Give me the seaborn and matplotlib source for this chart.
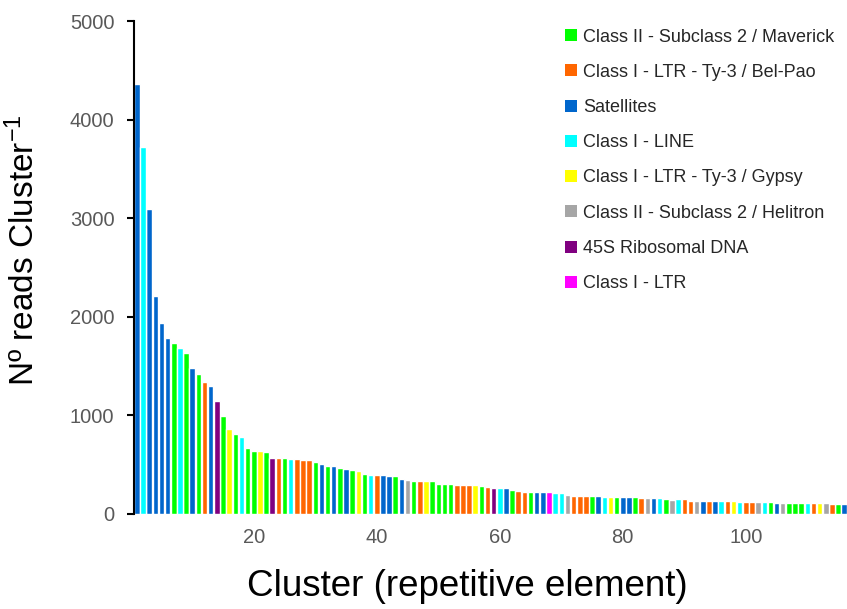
import pandas as pd
import seaborn as sns
import matplotlib.pyplot as plt
from matplotlib.patches import Patch

# Reads per cluster (clusters 1..116 in order)
reads = [4365, 3726, 3096, 2213, 1939, 1787, 1736, 1685, 1635, 1482,
         1421, 1340, 1300, 1147, 995, 863, 812, 782, 670, 640,
         640, 629, 569, 569, 569, 558, 558, 548, 548, 528,
         508, 487, 487, 467, 457, 447, 437, 406, 396, 396,
         396, 386, 386, 355, 345, 335, 335, 335, 335, 305,
         305, 305, 294, 294, 294, 294, 284, 274, 264, 264,
         264, 244, 234, 223, 223, 223, 223, 223, 213, 213,
         193, 183, 183, 183, 183, 183, 173, 173, 173, 173,
         173, 173, 162, 162, 162, 162, 152, 142, 152, 152,
         132, 132, 132, 132, 132, 132, 132, 132, 122, 122,
         122, 122, 122, 122, 112, 112, 112, 112, 112, 112,
         112, 112, 112, 102, 102, 102]

# Class code of each cluster
codes = ["sat", "line", "sat", "sat", "sat", "sat", "mav", "line", "mav", "sat",
         "mav", "bel", "sat", "rdna", "mav", "gyp", "mav", "line", "mav", "mav",
         "gyp", "mav", "rdna", "bel", "mav", "line", "bel", "bel", "bel", "mav",
         "sat", "mav", "sat", "mav", "sat", "mav", "gyp", "mav", "line", "bel",
         "sat", "sat", "mav", "sat", "hel", "mav", "bel", "gyp", "mav", "mav",
         "mav", "mav", "bel", "bel", "bel", "gyp", "mav", "bel", "rdna", "line",
         "sat", "mav", "bel", "bel", "mav", "sat", "sat", "ltr", "line", "line",
         "hel", "bel", "bel", "bel", "mav", "sat", "line", "gyp", "mav", "sat",
         "sat", "mav", "bel", "hel", "sat", "line", "mav", "hel", "line", "bel",
         "bel", "hel", "sat", "bel", "sat", "line", "bel", "gyp", "line", "bel",
         "bel", "hel", "line", "mav", "sat", "hel", "mav", "mav", "mav", "line",
         "bel", "gyp", "hel", "bel", "mav", "sat"]

# Legend order and names
class_codes = ["mav", "bel", "sat", "line", "gyp", "hel", "rdna", "ltr"]
class_names = ["Class II - Subclass 2 / Maverick",
               "Class I - LTR - Ty-3 / Bel-Pao",
               "Satellites",
               "Class I - LINE",
               "Class I - LTR - Ty-3 / Gypsy",
               "Class II - Subclass 2 / Helitron",
               "45S Ribosomal DNA",
               "Class I - LTR"]
class_colors = ["#00FF00", "#FF6600", "#0066CC", "#00FFFF",
                "#FFFF00", "#A6A6A6", "#800080", "#FF00FF"]

tick_labels = ["20", "40", "60", "80", "100"]

name_of = dict(zip(class_codes, class_names))
palette = dict(zip(class_names, class_colors))

df = pd.DataFrame({
    "Cluster": range(1, len(reads) + 1),
    "Reads": reads,
    "Class": [name_of[c] for c in codes],
})

sns.set_style("white")
plt.rcParams["font.family"] = ["Liberation Sans", "DejaVu Sans"]
plt.rcParams["mathtext.fontset"] = "custom"
plt.rcParams["mathtext.rm"] = "Liberation Sans"
plt.rcParams["mathtext.it"] = "Liberation Sans"

fig = plt.figure(figsize=(8.47, 6.09), dpi=100)
ax = fig.add_axes([0.158, 0.156, 0.842, 0.8095])

sns.barplot(data=df, x="Cluster", y="Reads", hue="Class",
            hue_order=class_names, palette=palette, dodge=False,
            width=0.9, saturation=1, legend=False, ax=ax)

ax.set_ylim(0, 5000)
ax.set_xlim(-0.5, len(reads) - 0.55)
ax.set_yticks(range(0, 5001, 1000))
ax.set_xticks([int(t) - 1 for t in tick_labels])
ax.set_xticklabels(tick_labels)

ax.tick_params(axis="y", direction="out", length=5, width=1.5, pad=9,
               labelsize=14.5, labelcolor="#595959", left=True, color="black")
ax.tick_params(axis="x", length=0, pad=10, labelsize=14.5, labelcolor="#595959")

for side in ["top", "right", "bottom"]:
    ax.spines[side].set_visible(False)
ax.spines["left"].set_color("black")
ax.spines["left"].set_linewidth(1.5)

ax.set_ylabel("Nº reads Cluster$^{\\mathrm{-1}}$", fontsize=24, color="black")
ax.yaxis.set_label_coords(-0.13, 0.535)
ax.set_xlabel("Cluster (repetitive element)", fontsize=26.5, color="black")
ax.xaxis.set_label_coords(0.467, -0.112)

handles = [Patch(facecolor=c, edgecolor="none") for c in class_colors]
fig.legend(handles, class_names, loc="upper left",
           bbox_to_anchor=(0.659, 0.965), frameon=False, fontsize=13,
           handlelength=0.65, handleheight=0.65, handletextpad=0.35,
           labelspacing=1.01, borderaxespad=0)

plt.savefig("out.png", dpi=100)
